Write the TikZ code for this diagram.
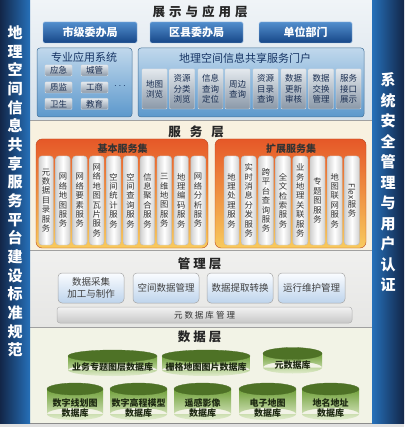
\documentclass[tikz,border=0pt]{standalone}
\usepackage{fontspec}
\usepackage{graphicx}
\setmainfont{Noto Sans CJK SC}
\definecolor{navy}{RGB}{22,52,100}
\definecolor{barblue}{RGB}{38,112,185}
\definecolor{bardark}{RGB}{18,38,72}
\definecolor{btntop}{RGB}{82,142,205}
\definecolor{btnbot}{RGB}{22,70,135}
\definecolor{panTop}{RGB}{192,216,236}
\definecolor{panBot}{RGB}{92,152,204}
\definecolor{tileTop}{RGB}{228,233,238}
\definecolor{tileBot}{RGB}{138,152,168}
\definecolor{tiletext}{RGB}{25,45,80}
\definecolor{orTop}{RGB}{230,88,40}
\definecolor{orBot}{RGB}{248,202,92}
\definecolor{topBgA}{RGB}{240,244,247}
\definecolor{topBgB}{RGB}{212,224,234}
\definecolor{servBg}{RGB}{248,241,224}
\definecolor{mgmtBg}{RGB}{230,230,228}
\definecolor{dataBg}{RGB}{242,243,230}
\definecolor{mboxTop}{RGB}{250,252,255}
\definecolor{mboxBot}{RGB}{190,212,236}
\definecolor{cylGreen}{RGB}{112,160,58}
\definecolor{cylLight}{RGB}{226,237,206}
\definecolor{cylTop}{RGB}{78,114,38}
\definecolor{cylText}{RGB}{30,42,18}
\definecolor{sepline}{RGB}{160,160,160}
\newcommand\cylinder[8]{%
  \path[cylbody] (#2,#4) rectangle (#3,#5) ({(#2+#3)/2},#5) ellipse[x radius={(#3-#2)/2}, y radius=#6];
  \path[cyltop] ({(#2+#3)/2},#4) ellipse[x radius={(#3-#2)/2}, y radius=#6];
  \node[cyltext] (#1) at ({(#2+#3)/2},#7) {#8};
}
\begin{document}
\begin{tikzpicture}[x=1pt,y=-1pt,
  every node/.style={inner sep=0pt, outer sep=0pt},
  lbar/.style={left color=bardark, right color=barblue},
  rbar/.style={left color=barblue, right color=bardark},
  bartext/.style={text=white, align=center, font=\fontsize{15}{#1}\selectfont\bfseries},
  layertitle/.style={text=black!85, font=\fontsize{12.5}{14}\selectfont\bfseries},
  btn/.style={rounded corners=1.5pt, top color=btntop, bottom color=btnbot, draw=btntop!60!white, line width=0.4pt, text=white, font=\fontsize{11}{12}\selectfont\bfseries},
  panel/.style={rounded corners=3pt, top color=panTop, bottom color=panBot, draw=panBot!75!black, line width=0.5pt},
  ptitle/.style={text=navy, font=\fontsize{11}{12}\selectfont},
  btile/.style={rounded corners=1pt, top color=tileTop, bottom color=tileBot, draw=white!75!gray, line width=0.4pt, text=tiletext, font=\fontsize{8.5}{10.3}\selectfont, align=center},
  opanel/.style={rounded corners=6pt, top color=orTop, bottom color=orBot, draw=orTop!80!black, line width=0.4pt},
  otitle/.style={text=black!80, font=\fontsize{10}{11}\selectfont\bfseries},
  otile/.style={rounded corners=3pt, left color=black!18, right color=black!18, middle color=white, draw=black!25, line width=0.4pt, text=black!80, font=\fontsize{8.3}{9.4}\selectfont, align=center},
  mbox/.style={rounded corners=4pt, top color=mboxTop, bottom color=mboxBot, draw=black!35, line width=0.5pt, text=black!75, font=\fontsize{9.5}{11.5}\selectfont, align=center},
  mbar/.style={rounded corners=3pt, top color=black!5, bottom color=black!22, draw=black!30, line width=0.5pt, text=black!80, font=\fontsize{8.5}{10}\selectfont},
  cylbody/.style={top color=cylGreen, bottom color=cylLight},
  cyltop/.style={fill=cylTop, draw=cylGreen!70!black, line width=0.3pt},
  cyltext/.style={text=cylText, align=center, font=\fontsize{9}{10.5}\selectfont\bfseries}
]
\useasboundingbox (0,0) rectangle (404,427);
\fill[black!12] (0,0) rectangle (404,427);
% layer backgrounds
\path[top color=topBgA, bottom color=topBgB] (30,0) rectangle (372,120);
\fill[servBg] (30,120) rectangle (372,250);
\path[top color=mgmtBg!60!white, bottom color=mgmtBg] (30,250) rectangle (372,327);
\fill[dataBg] (30,327) rectangle (372,423);
\draw[sepline, line width=0.8pt] (30,120) -- (372,120);
\draw[sepline, line width=0.8pt] (30,250) -- (372,250);
\draw[sepline, line width=0.8pt] (30,327) -- (372,327);
\draw[black!45, line width=0.8pt] (30,423) -- (372,423);
% side bars
\path[lbar] (0,0) rectangle (30,423);
\path[rbar] (372,0) rectangle (404,423);
\node[bartext=18.65] (ltext) at (15,191.5) {地\\理\\空\\间\\信\\息\\共\\享\\服\\务\\平\\台\\建\\设\\标\\准\\规\\范};
\node[bartext=20.5] (rtext) at (388,182.5) {系\\统\\安\\全\\管\\理\\与\\用\\户\\认\\证};

% ===== top layer =====
\node[layertitle] (t1) at (200,12) {展\hspace{4pt}示\hspace{4pt}与\hspace{4pt}应\hspace{4pt}用\hspace{4pt}层};
\node[btn, minimum width=94pt, minimum height=21pt] (b1) at (90,32.5) {市级委办局};
\node[btn, minimum width=93pt, minimum height=21pt] (b2) at (196.5,32.5) {区县委办局};
\node[btn, minimum width=93pt, minimum height=21pt] (b3) at (305.5,32.5) {单位部门};

\node[panel, minimum width=95pt, minimum height=69pt] (pa) at (84.5,82.5) {};
\node[ptitle] (pat) at (84,57.5) {专业应用系统};
\node[btile, minimum width=27pt, minimum height=11pt] (a1) at (58.5,70.5) {应急};
\node[btile, minimum width=27pt, minimum height=11pt] (a2) at (94.5,70.5) {城管};
\node[btile, minimum width=27pt, minimum height=11pt] (a3) at (58.5,87.5) {质监};
\node[btile, minimum width=27pt, minimum height=11pt] (a4) at (94.5,87.5) {工商};
\node[btile, minimum width=27pt, minimum height=11pt] (a5) at (58.5,104) {卫生};
\node[btile, minimum width=27pt, minimum height=11pt] (a6) at (94.5,104) {教育};
\node[text=navy, font=\fontsize{10}{10}\selectfont\bfseries] (adots) at (120,86) {$\cdots$};

\node[panel, minimum width=226pt, minimum height=69pt] (pb) at (251,82.5) {};
\node[ptitle] (pbt) at (245,58) {地理空间信息共享服务门户};
\node[btile, minimum width=25pt, minimum height=40pt] (p1) at (154.5,89) {地图\\浏览};
\node[btile, minimum width=25pt, minimum height=40pt] (p2) at (182,89) {资源\\分类\\浏览};
\node[btile, minimum width=25pt, minimum height=40pt] (p3) at (210.5,89) {信息\\查询\\定位};
\node[btile, minimum width=25pt, minimum height=40pt] (p4) at (237.5,89) {周边\\查询};
\node[btile, minimum width=25pt, minimum height=40pt] (p5) at (265.5,89) {资源\\目录\\查询};
\node[btile, minimum width=25pt, minimum height=40pt] (p6) at (293.5,89) {数据\\更新\\审核};
\node[btile, minimum width=25pt, minimum height=40pt] (p7) at (321,89) {数据\\交换\\管理};
\node[btile, minimum width=25pt, minimum height=40pt] (p8) at (348.5,89) {服务\\接口\\展示};

% ===== service layer =====
\node[layertitle] (t2) at (196,132) {服\hspace{9pt}务\hspace{9pt}层};
\node[opanel, minimum width=172pt, minimum height=109pt] (ol) at (122,193.5) {};
\node[otitle] (olt) at (122.5,149) {基本服务集};
\node[opanel, minimum width=151pt, minimum height=109pt] (or) at (290.5,193.5) {};
\node[otitle] (ort) at (291,149) {扩展服务集};
\foreach \i/\t in {0/{元\\数\\据\\目\\录\\服\\务},1/{网\\络\\地\\图\\服\\务},2/{网\\络\\要\\素\\服\\务},3/{网\\络\\地\\图\\瓦\\片\\服\\务},4/{空\\间\\统\\计\\服\\务},5/{空\\间\\查\\询\\服\\务},6/{信\\息\\聚\\合\\服\\务},7/{三\\维\\地\\图\\服\\务},8/{地\\理\\编\\码\\服\\务},9/{网\\络\\分\\析\\服\\务}}
  \node[otile, minimum width=14.5pt, minimum height=89pt] (s\i) at ({46+16.9*\i},200.5) {\t};
\foreach \i/\t in {0/{地\\理\\处\\理\\服\\务},1/{实\\时\\消\\息\\分\\发\\服\\务},2/{跨\\平\\台\\查\\询\\服\\务},3/{全\\文\\检\\索\\服\\务},4/{业\\务\\地\\理\\关\\联\\服\\务},5/{专\\题\\图\\服\\务},6/{地\\图\\联\\网\\服\\务},7/{\rotatebox{-90}{Flex}\\服\\务}}
  \node[otile, minimum width=15pt, minimum height=89pt] (e\i) at ({231.5+17.2*\i},200.5) {\t};

% ===== management layer =====
\node[layertitle] (t3) at (199.5,264) {管\hspace{3pt}理\hspace{3pt}层};
\node[mbox, minimum width=66pt, minimum height=30pt] (m1) at (91,288) {数据采集\\加工与制作};
\node[mbox, minimum width=66pt, minimum height=30pt] (m2) at (166,288) {空间数据管理};
\node[mbox, minimum width=66pt, minimum height=30pt] (m3) at (240,288) {数据提取转换};
\node[mbox, minimum width=67pt, minimum height=30pt] (m4) at (311.5,288) {运行维护管理};
\node[mbar, minimum width=295pt, minimum height=16pt] (m5) at (204.5,315) {元\hspace{2pt}数\hspace{2pt}据\hspace{2pt}库\hspace{2pt}管\hspace{2pt}理};

% ===== data layer =====
\node[layertitle] (t4) at (199.5,337) {数\hspace{3pt}据\hspace{3pt}层};
\cylinder{d1}{68}{157}{356}{370}{6}{367}{业务专题图层数据库}
\cylinder{d2}{162}{250}{356}{370}{6}{367}{栅格地图图片数据库}
\cylinder{d3}{263}{322}{353.5}{367.5}{6}{365}{元数据库}
\cylinder{d4}{47}{103}{389}{414}{6}{408}{数字线划图\\数据库}
\cylinder{d5}{110}{167}{389}{414}{6}{408}{数字高程模型\\数据库}
\cylinder{d6}{174}{231}{389}{414}{6}{408}{遥感影像\\数据库}
\cylinder{d7}{239}{296}{389}{414}{6}{408}{电子地图\\数据库}
\cylinder{d8}{302}{359}{389}{414}{6}{408}{地名地址\\数据库}
\end{tikzpicture}
\end{document}
